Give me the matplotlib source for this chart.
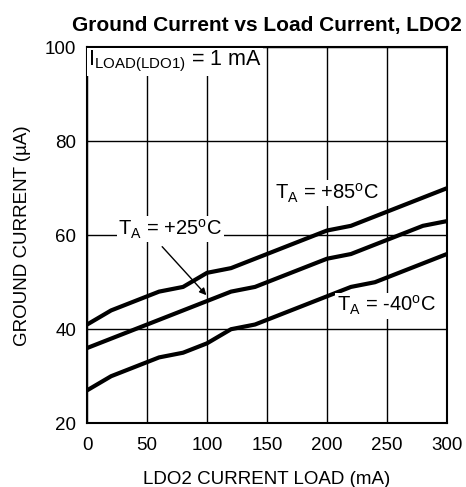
import matplotlib
matplotlib.use("Agg")
import matplotlib.pyplot as plt

plt.rcParams['font.family'] = ['Liberation Sans', 'DejaVu Sans']
plt.rcParams['mathtext.default'] = 'regular'

load_ma = [0, 20, 40, 60, 80, 100, 120, 140, 160, 180, 200, 220, 240, 260, 280, 300]
gnd_85c = [41, 44, 46, 48, 49, 52, 53, 55, 57, 59, 61, 62, 64, 66, 68, 70]
gnd_25c = [36, 38, 40, 42, 44, 46, 48, 49, 51, 53, 55, 56, 58, 60, 62, 63]
gnd_m40c = [27, 30, 32, 34, 35, 37, 40, 41, 43, 45, 47, 49, 50, 52, 54, 56]

fig = plt.figure(figsize=(4.66, 4.87), dpi=100)
ax = fig.add_axes([0.187, 0.131, 0.772, 0.772])

for y in (gnd_85c, gnd_25c, gnd_m40c):
    ax.plot(load_ma, y, color='black', lw=3, solid_capstyle='butt', zorder=3)

ax.set_xlim(0, 300)
ax.set_ylim(20, 100)
ax.set_xticks([0, 50, 100, 150, 200, 250, 300])
ax.set_yticks([20, 40, 60, 80, 100])
ax.grid(True, color='black', lw=1)
ax.tick_params(axis='x', length=0, labelsize=13.5, pad=10)
ax.tick_params(axis='y', length=0, labelsize=13.5, pad=8)
for s in ax.spines.values():
    s.set_linewidth(1.5)

ax.set_xlabel('LDO2 CURRENT LOAD (mA)', fontsize=13.5, labelpad=12)
ax.set_ylabel('GROUND CURRENT (µA)', fontsize=13.5, labelpad=10)
ax.set_title('Ground Current vs Load Current, LDO2', fontsize=15, fontweight='bold', pad=12)

box = dict(facecolor='white', edgecolor='none', pad=1)
ax.text(1, 99.6, r'I$_{LOAD(LDO1)}$ = 1 mA', fontsize=15.5, va='top', ha='left', bbox=box, zorder=4)
ax.text(157, 69, r'T$_{A}$ = +85$^{o}$C', fontsize=14.5, va='center', ha='left', bbox=box, zorder=4)
ax.text(26, 61.3, r'T$_{A}$ = +25$^{o}$C', fontsize=14.5, va='center', ha='left', bbox=box, zorder=4)
ax.text(208, 45, r'T$_{A}$ = -40$^{o}$C', fontsize=14.5, va='center', ha='left', bbox=box, zorder=4)
ax.annotate('', xy=(101, 46.8), xytext=(61, 58),
            arrowprops=dict(arrowstyle='-|>', color='black', lw=1, mutation_scale=10), zorder=4)

fig.savefig('out.png', dpi=100)
